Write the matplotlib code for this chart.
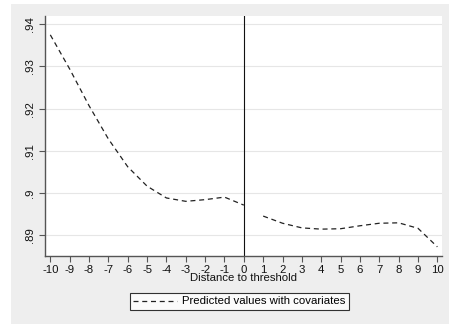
import matplotlib
matplotlib.use("Agg")
import matplotlib.pyplot as plt
from matplotlib.patches import Rectangle
from matplotlib.lines import Line2D

plt.rcParams['font.family'] = ['Liberation Sans', 'DejaVu Sans']

x_left = [-10, -9, -8, -7, -6, -5, -4, -3, -2, -1, 0]
y_left = [0.9375, 0.9294, 0.9207, 0.9128, 0.9062, 0.9016, 0.8988, 0.8980, 0.8984, 0.8990, 0.8971]
x_right = [1, 2, 3, 4, 5, 6, 7, 8, 9, 10]
y_right = [0.8945, 0.8928, 0.8917, 0.8914, 0.8915, 0.8922, 0.8928, 0.8929, 0.8916, 0.8872]
xticks = list(range(-10, 11))
yticks = [0.89, 0.90, 0.91, 0.92, 0.93, 0.94]
ytick_labels = ['.89', '.9', '.91', '.92', '.93', '.94']
legend_label = 'Predicted values with covariates'
xlabel = 'Distance to threshold'

W, H = 449, 324
fig = plt.figure(figsize=(W / 100, H / 100), dpi=100)
fig.patch.set_facecolor('white')
bg = Rectangle((11 / W, 0), 1 - 11 / W, 1 - 4 / H, transform=fig.transFigure,
               facecolor='#eeeeee', edgecolor='none', zorder=-10)
fig.add_artist(bg)

ax = fig.add_axes([44.7 / W, 1 - 255.7 / H, (442 - 44.7) / W, (255.7 - 16) / H])
ax.set_zorder(1)
ax.set_facecolor('white')
ax.plot(x_left, y_left, color='#222222', lw=0.9, ls=(0, (4, 3)))
ax.plot(x_right, y_right, color='#222222', lw=0.9, ls=(0, (4, 3)))
ax.axvline(0, color='#111111', lw=0.8)

ax.set_xlim(-10.29, 10.24)
ax.set_ylim(0.8851, 0.94197)
ax.set_xticks(xticks)
ax.set_xticklabels([str(v) for v in xticks])
ax.set_yticks(yticks)
ax.set_yticklabels(ytick_labels, rotation=90, va='center')
ax.tick_params(axis='both', direction='out', length=4, width=0.8, color='#555555',
               labelsize=8.2, labelcolor='#111111', pad=3)
ax.grid(axis='y', color='#e6e6e6', lw=0.8)
ax.set_axisbelow(True)
for s in ['top', 'right']:
    ax.spines[s].set_visible(False)
for s in ['left', 'bottom']:
    ax.spines[s].set_color('#555555')
    ax.spines[s].set_linewidth(1.0)

ax.set_xlabel(xlabel, fontsize=8.2, labelpad=-1.5, color='#111111')

handle = Line2D([], [], color='#222222', lw=0.9, ls=(0, (4, 3)))
leg = fig.legend([handle], [legend_label], loc='center', bbox_to_anchor=(239.5 / W, 1 - 301.5 / H),
                 frameon=True, fancybox=False, fontsize=8.2, handlelength=3.8, borderpad=0.3,
                 handletextpad=0.5, borderaxespad=0)
leg.get_frame().set_edgecolor('black')
leg.get_frame().set_linewidth(0.8)
leg.get_frame().set_facecolor('white')
leg.set_zorder(2)

fig.savefig('out.png', dpi=100)
